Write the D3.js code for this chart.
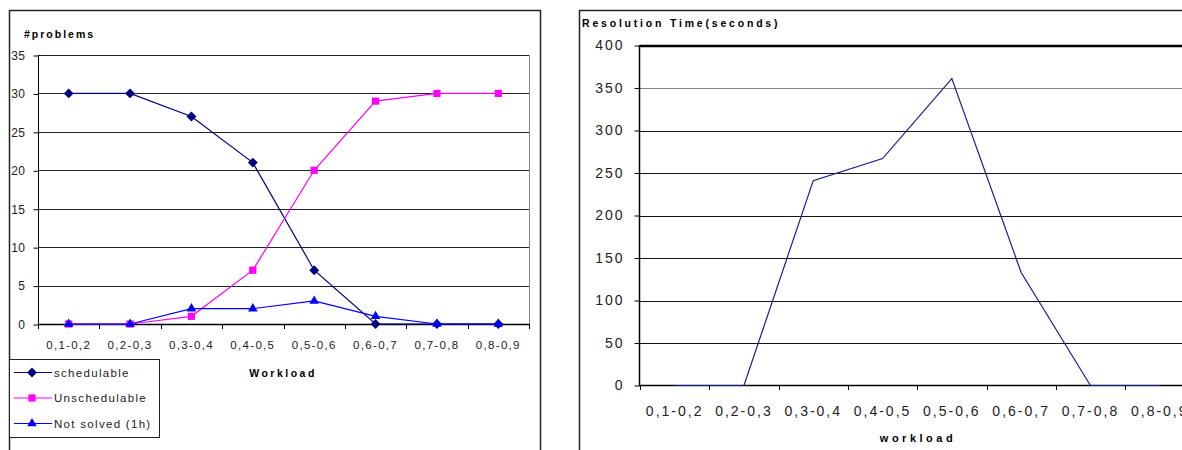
<!DOCTYPE html>
<html>
<head>
<meta charset="utf-8">
<script src="https://cdn.jsdelivr.net/npm/d3@7"></script>
<style>
  body { margin: 0; background: #fff; }
  svg { display: block; font-family: "Liberation Sans", Arial, sans-serif; }
</style>
</head>
<body>
<div id="chart"></div>
<script>
(function () {
  // categories and values
  const categories = ["0,1-0,2", "0,2-0,3", "0,3-0,4", "0,4-0,5", "0,5-0,6", "0,6-0,7", "0,7-0,8", "0,8-0,9"];
  const schedulable = [30, 30, 27, 21, 7, 0, 0, 0];
  const unschedulable = [0, 0, 1, 7, 20, 29, 30, 30];
  const notSolved = [0, 0, 2, 2, 3, 1, 0, 0];
  const resolutionTime = [0, 0, 241, 267, 361, 133, 0, 0];
  const problemTicks = [0, 5, 10, 15, 20, 25, 30, 35];
  const timeTicks = [0, 50, 100, 150, 200, 250, 300, 350, 400];

  const svg = d3.select("#chart")
    .append("svg")
    .attr("width", 1182)
    .attr("height", 450);

  // ---------- left chart : #problems ----------
  const left = svg.append("g");

  // outer frame (bottom runs off the picture)
  left.append("path")
    .attr("d", "M9.5,450 V10.5 H540.5 V450")
    .attr("fill", "none")
    .attr("stroke", "#222")
    .attr("stroke-width", 1.5);

  const xPositionScale = d3.scaleBand().domain(categories).range([38, 529]);
  const yPositionScale = d3.scaleLinear().domain([0, 35]).range([324, 55]);

  // gridlines
  left.selectAll(".grid")
    .data(problemTicks.filter(d => d > 0))
    .enter().append("line")
    .attr("x1", 38)
    .attr("x2", 529)
    .attr("y1", d => Math.round(yPositionScale(d)) + 0.5)
    .attr("y2", d => Math.round(yPositionScale(d)) + 0.5)
    .attr("stroke", "#222")
    .attr("stroke-width", 1)

  // right border of plot area is grey
  left.append("line")
    .attr("x1", 529.5).attr("x2", 529.5)
    .attr("y1", 55).attr("y2", 324)
    .attr("stroke", "#888")

  const yAxis = d3.axisLeft(yPositionScale).tickValues(problemTicks).tickSize(5).tickPadding(8)
  left.append("g")
    .attr("transform", "translate(38.5,0.5)")
    .call(yAxis)
    .call(g => g.select(".domain").remove())
    .call(g => g.selectAll("text").attr("font-size", "12px").attr("fill", "#222").attr("letter-spacing", "0.5px"))
  left.append("line")
    .attr("x1", 38.5).attr("x2", 38.5)
    .attr("y1", 55).attr("y2", 324)
    .attr("stroke", "#000")

  // category axis with ticks at band edges
  left.append("line")
    .attr("x1", 38).attr("x2", 530)
    .attr("y1", 324.5).attr("y2", 324.5)
    .attr("stroke", "#000")
    .attr("stroke-width", 1.5)
  left.selectAll(".xtick")
    .data(categories.concat(["end"]))
    .enter().append("line")
    .attr("x1", (d, i) => Math.round(38 + i * xPositionScale.bandwidth()) + 0.5)
    .attr("x2", (d, i) => Math.round(38 + i * xPositionScale.bandwidth()) + 0.5)
    .attr("y1", 324)
    .attr("y2", 329)
    .attr("stroke", "#000")
  left.selectAll(".xlabel")
    .data(categories)
    .enter().append("text")
    .attr("x", d => xPositionScale(d) + xPositionScale.bandwidth() / 2)
    .attr("y", 349)
    .attr("text-anchor", "middle")
    .attr("font-size", "11.5px")
    .attr("letter-spacing", "1.3px")
    .attr("fill", "#222")
    .text(d => d)

  left.append("text")
    .attr("x", 24)
    .attr("y", 38)
    .attr("font-size", "10.5px")
    .attr("font-weight", "bold")
    .attr("letter-spacing", "2px")
    .text("#problems")

  left.append("text")
    .attr("x", 283)
    .attr("y", 377)
    .attr("text-anchor", "middle")
    .attr("font-size", "10.5px")
    .attr("font-weight", "bold")
    .attr("letter-spacing", "2.5px")
    .text("Workload")

  const line = d3.line()
    .x((d, i) => xPositionScale(categories[i]) + xPositionScale.bandwidth() / 2)
    .y(d => yPositionScale(d))

  const series = [
    { name: "schedulable", values: schedulable, color: "#000080", symbol: d3.symbolDiamond2 },
    { name: "Unschedulable", values: unschedulable, color: "#ff00ff", symbol: d3.symbolSquare2 },
    { name: "Not solved (1h)", values: notSolved, color: "#0000ff", symbol: d3.symbolTriangle2 }
  ]
  const markerSize = { "schedulable": 62, "Unschedulable": 66, "Not solved (1h)": 66 }

  series.forEach(s => {
    left.append("path")
      .datum(s.values)
      .attr("d", line)
      .attr("fill", "none")
      .attr("stroke", s.color)
      .attr("stroke-width", 1.2)
    left.selectAll(".pt-" + s.name.length)
      .data(s.values)
      .enter().append("path")
      .attr("transform", (d, i) => "translate(" + (xPositionScale(categories[i]) + xPositionScale.bandwidth() / 2) + "," + yPositionScale(d) + ")")
      .attr("d", d3.symbol().type(s.symbol).size(markerSize[s.name]))
      .attr("fill", s.color)
  })

  // legend
  left.append("rect")
    .attr("x", 9.5).attr("y", 359.5)
    .attr("width", 150).attr("height", 78)
    .attr("fill", "#fff")
    .attr("stroke", "#222")
  series.forEach((s, i) => {
    const ly = 372.5 + i * 25.5
    left.append("line")
      .attr("x1", 14).attr("x2", 52)
      .attr("y1", ly).attr("y2", ly)
      .attr("stroke", s.color)
      .attr("stroke-width", 1.2)
    left.append("path")
      .attr("transform", "translate(32," + ly + ")")
      .attr("d", d3.symbol().type(s.symbol).size(markerSize[s.name]))
      .attr("fill", s.color)
    left.append("text")
      .attr("x", 54)
      .attr("y", ly + 4)
      .attr("font-size", "11.5px")
      .attr("letter-spacing", "1.3px")
      .attr("fill", "#222")
      .text(s.name)
  })

  // ---------- right chart : resolution time ----------
  const right = svg.append("g");

  right.append("path")
    .attr("d", "M579.5,450 V10.5 H1182")
    .attr("fill", "none")
    .attr("stroke", "#222")
    .attr("stroke-width", 1.5)

  const xTimeScale = d3.scaleBand().domain(categories).range([640, 640 + 8 * 69.3]);
  const yTimeScale = d3.scaleLinear().domain([0, 400]).range([385.5, 45.5]);

  right.selectAll(".grid")
    .data(timeTicks.filter(d => d > 0 && d < 400))
    .enter().append("line")
    .attr("x1", 640)
    .attr("x2", 1182)
    .attr("y1", d => Math.round(yTimeScale(d)) + 0.5)
    .attr("y2", d => Math.round(yTimeScale(d)) + 0.5)
    .attr("stroke", d => d == 350 ? "#808080" : "#111")
  right.append("line")
    .attr("x1", 640).attr("x2", 1182)
    .attr("y1", 46).attr("y2", 46)
    .attr("stroke", "#000")
    .attr("stroke-width", 2.5)

  const yTimeAxis = d3.axisLeft(yTimeScale).tickValues(timeTicks).tickSize(5).tickPadding(10)
  right.append("g")
    .attr("transform", "translate(639.5,0)")
    .call(yTimeAxis)
    .call(g => g.select(".domain").remove())
    .call(g => g.selectAll("text").attr("font-size", "14px").attr("fill", "#222").attr("letter-spacing", "2px"))
  right.append("line")
    .attr("x1", 639.5).attr("x2", 639.5)
    .attr("y1", 45).attr("y2", 386)
    .attr("stroke", "#000")
    .attr("stroke-width", 1.5)

  right.append("line")
    .attr("x1", 639).attr("x2", 1182)
    .attr("y1", 385.5).attr("y2", 385.5)
    .attr("stroke", "#000")
    .attr("stroke-width", 1.5)
  right.selectAll(".xtick")
    .data(categories)
    .enter().append("line")
    .attr("x1", d => Math.round(xTimeScale(d)) + 0.5)
    .attr("x2", d => Math.round(xTimeScale(d)) + 0.5)
    .attr("y1", 385)
    .attr("y2", 390)
    .attr("stroke", "#000")
  right.selectAll(".xlabel")
    .data(categories)
    .enter().append("text")
    .attr("x", d => xTimeScale(d) + xTimeScale.bandwidth() / 2)
    .attr("y", 416)
    .attr("text-anchor", "middle")
    .attr("font-size", "14px")
    .attr("letter-spacing", "2px")
    .attr("fill", "#222")
    .text(d => d)

  right.append("text")
    .attr("x", 582)
    .attr("y", 27)
    .attr("font-size", "10.5px")
    .attr("font-weight", "bold")
    .attr("letter-spacing", "2.8px")
    .text("Resolution Time(seconds)")

  right.append("text")
    .attr("x", 918)
    .attr("y", 442)
    .attr("text-anchor", "middle")
    .attr("font-size", "11px")
    .attr("font-weight", "bold")
    .attr("letter-spacing", "3.5px")
    .text("workload")

  const timeLine = d3.line()
    .x((d, i) => xTimeScale(categories[i]) + xTimeScale.bandwidth() / 2)
    .y(d => yTimeScale(d))

  right.append("path")
    .datum(resolutionTime)
    .attr("d", timeLine)
    .attr("fill", "none")
    .attr("stroke", "#1a1a8c")
    .attr("stroke-width", 1.2)
})();
</script>
</body>
</html>
